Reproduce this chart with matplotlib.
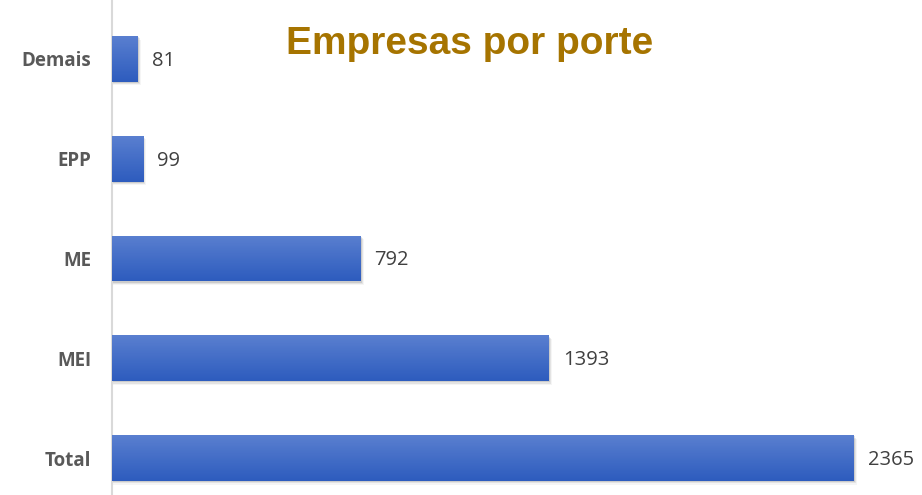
import numpy as np
import matplotlib.pyplot as plt
from matplotlib.patches import Rectangle

categories = ["Total", "MEI", "ME", "EPP", "Demais"]
values = [2365, 1393, 792, 99, 81]
title = "Empresas por porte"

fig = plt.figure(figsize=(9.22, 4.95), dpi=100)
ax = fig.add_axes([112 / 922, 0, 1 - 112 / 922, 1])

bar_h = 0.46
xmax = (922 - 112) / 0.3137
ax.set_xlim(0, xmax)
ax.set_ylim(-0.37, 4.59)

# vertical gradient, lighter on top
grad = np.linspace(0, 1, 64).reshape(-1, 1)
cmap = plt.matplotlib.colors.LinearSegmentedColormap.from_list("bar", ["#2d5cbe", "#5a7fd0"])

for i, v in enumerate(values):
    # soft shadow
    for k, a in enumerate([0.10, 0.07, 0.04]):
        off = (k + 1) * 0.012
        sh = Rectangle((0, i - bar_h / 2 - off), v + off * 300, bar_h, color="#000000",
                       alpha=a, lw=0, zorder=1)
        ax.add_patch(sh)
    rect = Rectangle((0, i - bar_h / 2), v, bar_h, facecolor="#4070c8", lw=0, zorder=2)
    ax.add_patch(rect)
    im = ax.imshow(grad, cmap=cmap, aspect="auto", origin="lower",
                   extent=(0, v, i - bar_h / 2, i + bar_h / 2), zorder=3)
    im.set_clip_path(rect)
    ax.text(v + 45, i - 0.02, str(v), va="center", ha="left", fontsize=14.5,
            color="#404040", family="Open Sans")

ax.set_xlim(0, xmax)
ax.set_ylim(-0.37, 4.59)
ax.set_yticks(range(len(categories)))
ax.set_yticklabels(categories, fontsize=13.5, fontweight="bold", color="#595959",
                   family="Open Sans")
ax.tick_params(axis="y", length=0, pad=15)
ax.set_xticks([])
for s in ["top", "right", "bottom"]:
    ax.spines[s].set_visible(False)
ax.spines["left"].set_color("#d9d9d9")
ax.spines["left"].set_linewidth(1.5)

fig.text(470 / 922, 1 - 44 / 495, title, ha="center", va="center", fontsize=28,
         fontweight="bold", color="#a67400", family="Liberation Sans")

fig.savefig("out.png", dpi=100)
